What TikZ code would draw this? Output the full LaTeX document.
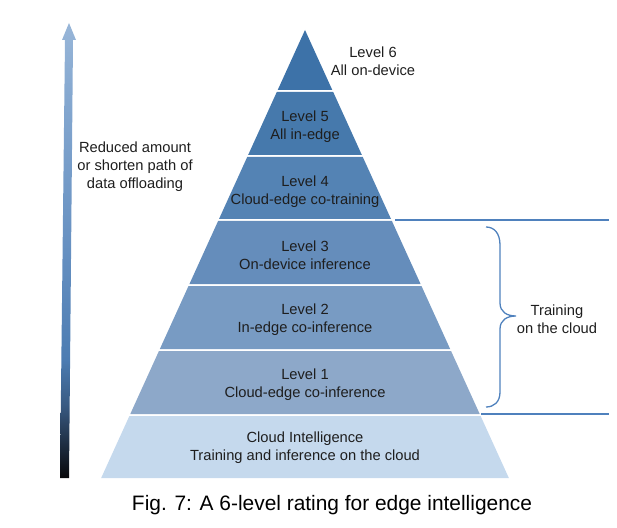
\documentclass[tikz,border=0pt]{standalone}
\usepackage{fontspec}
\setmainfont{Liberation Sans}
\usetikzlibrary{calc}

\definecolor{arrowfoot}{RGB}{8,8,10}
\definecolor{arrowdark}{RGB}{32,48,70}
\definecolor{arrowmidA}{RGB}{56,90,130}
\definecolor{arrowmidB}{RGB}{76,124,178}
\definecolor{arrowmidC}{RGB}{102,144,193}
\definecolor{arrowlight}{RGB}{133,168,208}
\definecolor{arrowtip}{RGB}{152,182,216}

\definecolor{lvsix}{RGB}{61,114,168}
\definecolor{lvfive}{RGB}{70,121,172}
\definecolor{lvfour}{RGB}{84,131,180}
\definecolor{lvthree}{RGB}{101,141,187}
\definecolor{lvtwo}{RGB}{120,155,195}
\definecolor{lvone}{RGB}{141,168,201}
\definecolor{lvbase}{RGB}{197,217,237}
\definecolor{accent}{RGB}{79,129,189}
\definecolor{ink}{RGB}{30,30,30}

% Vertical shading for the tall arrow (dark at the foot, light at the tip)
\pgfdeclareverticalshading{upshade}{100bp}{%
  color(0bp)=(arrowfoot);
  color(25bp)=(arrowfoot);
  color(29bp)=(arrowdark);
  color(33bp)=(arrowmidA);
  color(38bp)=(arrowmidB);
  color(50bp)=(arrowmidC);
  color(67bp)=(arrowlight);
  color(75bp)=(arrowtip);
  color(100bp)=(arrowtip)}

% One slice of the pyramid: top y, bottom y, fill colour
\newcommand{\pyrlayer}[3]{%
  \pgfmathsetmacro{\hwtop}{0.455*(#1-30)}%
  \pgfmathsetmacro{\hwbot}{0.455*(#2-30)}%
  \fill[#3] (305-\hwtop,#1) -- (305+\hwtop,#1) -- (305+\hwbot,#2) -- (305-\hwbot,#2) -- cycle;%
}

\begin{document}
\begin{tikzpicture}[x=1bp,y=-1bp,
  lbl/.style={text=ink,align=center,inner sep=0pt,
    font=\fontsize{14.7bp}{17.8bp}\selectfont},
  capt/.style={text=black,inner sep=0pt,font=\fontsize{20.9bp}{24bp}\selectfont},
  rule/.style={draw=accent,line width=1.3bp}]
\useasboundingbox (0,0) rectangle (617,528);

% pyramid slices
\pyrlayer{30}{90}{lvsix}
\pyrlayer{92}{155}{lvfive}
\pyrlayer{157}{219}{lvfour}
\pyrlayer{221}{284}{lvthree}
\pyrlayer{286}{349}{lvtwo}
\pyrlayer{351}{414}{lvone}
\pyrlayer{416}{478}{lvbase}

% slice labels
\node[lbl] (l6) at (373,61) {Level 6\\All on-device};
\node[lbl] (l5) at (305,127) {Level 5\\All in-edge};
\node[lbl] (l4) at (305,192) {Level 4\\Cloud-edge co-training};
\node[lbl] (l3) at (305,255) {Level 3\\On-device inference};
\node[lbl] (l2) at (305,320) {Level 2\\In-edge co-inference};
\node[lbl] (l1) at (305,385) {Level 1\\Cloud-edge co-inference};
\node[lbl] (l0) at (305,448) {Cloud Intelligence\\Training and inference on the cloud};

% upward arrow
\shade[shading=upshade] (60,478) -- (69,478) -- (73,40) -- (76,40) -- (69,23)
  -- (62,40) -- (65,40) -- cycle;
\node[lbl] (offload) at (135,167) {Reduced amount\\or shorten path of\\data offloading};

% training bracket and its rules
\coordinate (ruleAa) at (395,220);
\coordinate (ruleAb) at (609,220);
\coordinate (ruleBa) at (481,414);
\coordinate (ruleBb) at (609,414);
\draw[rule] (ruleAa) -- (ruleAb);
\draw[rule] (ruleBa) -- (ruleBb);
\draw[rule] (486,227) .. controls (494,227) and (500,233) .. (500,245) -- (500,303)
  .. controls (500,312) and (507,316) .. (516,316)
  .. controls (507,316) and (500,320) .. (500,329) -- (500,392)
  .. controls (500,402) and (494,407) .. (486,407);
\node[lbl] (train) at (557,319) {Training\\on the cloud};

% caption
\node[capt] (caption) at (332,505) {Fig. 7: A 6-level rating for edge intelligence};
\end{tikzpicture}
\end{document}
